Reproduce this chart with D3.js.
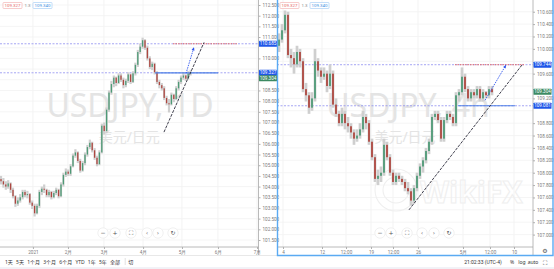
<!DOCTYPE html>
<html>
<head>
<meta charset="utf-8">
<script src="https://cdn.jsdelivr.net/npm/d3@7/dist/d3.min.js"></script>
<style>
  body { margin: 0; background: #fff; }
  svg { display: block; font-family: "Noto Sans", "Noto Sans CJK SC", sans-serif; }
</style>
</head>
<body>
<svg id="svg" width="554" height="269"></svg>
<script>
// daily candles [open, high, low, close]
const dailyCandles = [
  [104.35,104.5,104.1,104.25],[104.25,104.4,103.95,104.1],[104.1,104.25,103.85,104.0],[104.0,104.3,103.9,104.15],
  [104.15,104.2,103.7,103.85],[103.85,103.95,103.45,103.55],[103.55,103.6,103.05,103.2],[103.2,103.5,103.1,103.35],
  [103.35,103.65,103.25,103.5],[103.5,103.85,103.4,103.75],[103.75,103.85,103.5,103.6],[103.6,103.8,103.45,103.65],
  [103.65,103.7,103.15,103.25],[103.25,103.35,102.95,103.1],[103.1,103.2,102.6,102.75],[102.75,103.2,102.7,103.1],
  [103.1,103.85,103.0,103.75],[103.75,104.0,103.6,103.9],[103.9,104.1,103.7,103.85],[103.85,103.9,103.5,103.6],
  [103.6,103.85,103.5,103.75],[103.75,103.8,103.4,103.5],[103.5,103.8,103.45,103.7],[103.7,103.95,103.6,103.85],
  [103.85,103.9,103.45,103.55],[103.55,104.2,103.5,104.1],[104.1,104.65,104.0,104.55],[104.55,104.85,104.45,104.7],
  [104.7,104.8,104.5,104.6],[104.6,105.05,104.5,104.95],[104.95,105.55,104.9,105.45],[105.45,105.75,105.35,105.6],
  [105.6,105.65,105.1,105.2],[105.2,105.3,104.65,104.75],[104.75,105.2,104.7,105.1],[105.1,105.6,105.0,105.5],
  [105.5,105.95,105.4,105.85],[105.85,106.2,105.75,106.05],[106.05,106.1,105.6,105.7],[105.7,105.8,105.25,105.35],
  [105.35,105.45,104.95,105.05],[105.05,105.7,105.0,105.6],[105.6,106.95,105.55,106.85],[106.85,107.0,106.45,106.6],
  [106.6,107.7,106.5,107.6],[107.6,108.5,107.5,108.4],[108.4,108.95,108.3,108.8],[108.8,109.2,108.65,109.1],
  [109.1,109.15,108.7,108.85],[108.85,109.3,108.8,109.2],[109.2,109.3,108.9,109.0],[109.0,109.1,108.6,108.75],
  [108.75,109.05,108.65,108.95],[108.95,109.35,108.85,109.25],[109.25,109.3,108.8,108.9],[108.9,109.4,108.85,109.3],
  [109.3,109.8,109.2,109.7],[109.7,110.4,109.6,110.3],[110.3,110.7,110.2,110.55],[110.55,110.97,110.45,110.85],
  [110.85,110.9,110.4,110.5],[110.5,110.6,109.9,110.0],[110.0,110.1,109.5,109.6],[109.6,109.85,109.45,109.75],
  [109.75,109.8,109.25,109.35],[109.35,109.4,108.8,108.9],[108.9,109.0,108.6,108.75],[108.75,108.85,108.5,108.6],
  [108.6,108.7,108.05,108.15],[108.15,108.25,107.8,107.9],[107.9,108.1,107.47,107.85],[107.85,108.4,107.8,108.3],
  [108.3,108.35,107.95,108.1],[108.1,108.7,108.05,108.6],[108.6,109.0,108.5,108.9],[108.9,109.2,108.8,109.1],
  [109.1,109.35,109.0,109.2],[109.2,109.25,108.95,109.05],[109.05,109.4,109.0,109.3],[109.3,109.45,109.2,109.35]
];

// intraday candles [open, high, low, close]
const hourCandles = [
  [110.05,110.25,109.95,110.15],[110.15,110.4,110.1,110.3],[110.3,110.62,110.25,110.55],[110.55,110.6,109.85,109.9],
  [109.9,110.0,109.7,109.85],[109.85,109.95,109.6,109.75],[109.75,110.05,109.7,109.95],[109.95,110.0,109.7,109.8],
  [109.8,109.85,109.3,109.35],[109.35,109.45,109.15,109.25],[109.25,109.3,108.95,109.05],[109.05,109.3,109.0,109.2],
  [109.2,110.0,109.15,109.8],[109.8,109.85,109.55,109.65],[109.65,109.7,109.45,109.55],[109.55,109.7,109.5,109.6],
  [109.6,109.65,109.3,109.4],[109.4,109.75,109.35,109.6],[109.6,109.65,109.05,109.1],[109.1,109.2,108.9,108.95],
  [108.95,109.0,108.75,108.8],[108.8,109.05,108.75,108.95],[108.95,109.0,108.7,108.8],[108.8,108.9,108.65,108.75],
  [108.75,108.8,108.55,108.65],[108.65,108.7,108.45,108.55],[108.55,108.7,108.5,108.6],[108.6,108.8,108.55,108.7],
  [108.7,109.0,108.65,108.9],[108.9,108.95,108.7,108.8],[108.8,108.85,108.45,108.5],[108.5,108.55,108.2,108.25],
  [108.25,108.3,107.85,107.9],[107.9,108.05,107.8,107.95],[107.95,108.1,107.85,108.0],[108.0,108.55,107.95,108.45],
  [108.45,108.5,108.2,108.25],[108.25,108.3,107.95,108.0],[108.0,108.05,107.8,107.85],[107.85,108.0,107.8,107.95],
  [107.95,108.0,107.85,107.9],[107.9,107.95,107.8,107.85],[107.85,107.9,107.7,107.75],[107.75,107.85,107.65,107.7],
  [107.7,107.75,107.47,107.55],[107.55,107.8,107.5,107.75],[107.75,108.0,107.7,107.95],[107.95,108.15,107.9,108.1],
  [108.1,108.25,108.0,108.2],[108.2,108.4,108.15,108.35],[108.35,108.55,108.3,108.5],[108.5,108.95,108.45,108.9],
  [108.9,109.0,108.85,108.95],[108.95,109.0,108.8,108.85],[108.85,108.9,108.5,108.55],[108.55,108.9,108.5,108.85],
  [108.85,109.0,108.8,108.95],[108.95,109.0,108.85,108.9],[108.9,108.95,108.75,108.8],[108.8,109.3,108.75,109.25],
  [109.25,109.35,109.15,109.3],[109.3,109.7,109.25,109.55],[109.55,109.6,109.3,109.35],[109.35,109.4,109.15,109.2],
  [109.2,109.35,109.15,109.3],[109.3,109.35,109.2,109.25],[109.25,109.4,109.2,109.35],[109.35,109.4,109.15,109.2],
  [109.2,109.35,109.15,109.3],[109.3,109.32,109.2,109.25],[109.25,109.4,109.2,109.35],[109.35,109.4,109.25,109.3]
];

const dailyXTickPos = [13.3, 27.9, 42.9, 59.2, 75.4, 90.4, 106.7];
const dailyXTickLabels = ["2021", "2月", "3月", "4月", "5月", "6月", "7月"];
const hourXTickPos = [1.33, 14.33, 22.33, 30.67, 38, 46.33, 61.33, 70.33, 78.33];
const hourXTickLabels = ["4", "12", "12:00", "19", "12:00", "26", "5月", "12:00", "10"];

const dailyYTicks = [101.5,102,102.5,103,103.5,104,104.5,105,105.5,106,106.5,107,107.5,108,108.5,109,109.5,110,110.5,111,111.5,112,112.5];
const hourYTicks = [107,107.2,107.4,107.6,107.8,108,108.2,108.4,108.6,108.8,109,109.2,109.4,109.6,109.8,110,110.2,110.4,110.6,110.8];

// drawing tools: [start index, start price, end index, end price]
const dailyLevels = {upper: 110.685, lower: 109.327, last: 109.304};
const dailyTrend = [67.9, 106.55, 84.6, 110.75];
const dailyArrow = [77.1, 109.30, 80.4, 110.52];
const dailyRed = [71.7, 98.3];
const dailyBlue = [64.2, 90.4];

const hourLevels = {upper: 109.744, lower: 109.081, last: 109.304};
const hourTrend = [43.33, 107.4, 81, 109.74];
const hourArrow = [68.67, 109.17, 75.67, 109.74];
const hourRed = [58.67, 82];
const hourBlue = [59.67, 78.67];

const headerValues = ["109.327", "1.3", "109.340"];
const rangeButtons = ["1天", "5天", "1个月", "3个月", "6个月", "YTD", "1年", "5年", "全部"];

const upColor = "#4e9a76", downColor = "#ad4740", wickColor = "#cfcfcf";
const tagBlue = "#1f56e8", lvlColor = "#8f8ff0";

const svg = d3.select("#svg");

function drawPanel(p) {
  const g = svg.append("g");
  const x = d3.scaleLinear().domain(p.xDomain).range(p.xRange);
  const y = d3.scaleLinear().domain(p.yDomain).range(p.yRange);

  // grid
  g.selectAll(".vgrid").data(p.xTickPos).join("line")
    .attr("x1", d => x(d)).attr("x2", d => x(d))
    .attr("y1", 0).attr("y2", p.axisY)
    .attr("stroke", "#f0f0f0").attr("stroke-width", 0.8);
  g.selectAll(".hgrid").data(p.yTicks).join("line")
    .attr("x1", p.left).attr("x2", p.axisX)
    .attr("y1", d => y(d)).attr("y2", d => y(d))
    .attr("stroke", "#f3f3f3").attr("stroke-width", 0.8);

  // watermark
  g.append("text").attr("x", p.wmX).attr("y", 117).attr("text-anchor", "middle")
    .attr("font-size", 32).attr("fill", "#e4e4e4").text(p.title);
  g.append("text").attr("x", (p.left + p.axisX) / 2).attr("y", 142).attr("text-anchor", "middle")
    .attr("font-size", 14).attr("fill", "#e4e4e4").text("美元/日元");

  if (p.wikifx) {
    const w = g.append("g").attr("fill", "none").attr("stroke", "#efefef").attr("stroke-width", 1.1);
    w.append("circle").attr("cx", 396).attr("cy", 190).attr("r", 21);
    w.append("circle").attr("cx", 396).attr("cy", 190).attr("r", 13);
    w.append("text").attr("x", 420).attr("y", 203).attr("font-size", 30)
      .attr("font-weight", 700).attr("font-family", "Open Sans").text("WikiFX");
  }

  // full-width level lines
  g.selectAll(".lvl").data([p.levels.upper, p.levels.lower]).join("line")
    .attr("x1", p.left).attr("x2", p.axisX)
    .attr("y1", d => y(d)).attr("y2", d => y(d))
    .attr("stroke", lvlColor).attr("stroke-width", 0.8).attr("stroke-dasharray", "2,1.5");

  // candles
  g.selectAll(".wick").data(p.candles).join("line")
    .attr("x1", (d, i) => x(i)).attr("x2", (d, i) => x(i))
    .attr("y1", d => y(d[1])).attr("y2", d => y(d[2]))
    .attr("stroke", wickColor).attr("stroke-width", p.bodyW + 0.9);
  g.selectAll(".body").data(p.candles).join("rect")
    .attr("x", (d, i) => x(i) - p.bodyW / 2).attr("width", p.bodyW)
    .attr("y", d => y(Math.max(d[0], d[3])))
    .attr("height", d => Math.max(0.8, Math.abs(y(d[0]) - y(d[3]))))
    .attr("fill", d => d[3] >= d[0] ? upColor : downColor);

  // red dotted target and blue solid base
  g.append("line").attr("x1", x(p.red[0])).attr("x2", x(p.red[1]))
    .attr("y1", y(p.levels.upper)).attr("y2", y(p.levels.upper))
    .attr("stroke", "#e26a6a").attr("stroke-width", 1).attr("stroke-dasharray", "1.5,1");
  g.append("line").attr("x1", x(p.blue[0])).attr("x2", x(p.blue[1]))
    .attr("y1", y(p.levels.lower)).attr("y2", y(p.levels.lower))
    .attr("stroke", "#4f7fe6").attr("stroke-width", 1.2);

  // trend line
  g.append("line").attr("x1", x(p.trend[0])).attr("y1", y(p.trend[1]))
    .attr("x2", x(p.trend[2])).attr("y2", y(p.trend[3]))
    .attr("stroke", "#2a2a3a").attr("stroke-width", 0.9).attr("stroke-dasharray", "3,1.2");

  // projection arrow
  const ax1 = x(p.arrow[0]), ay1 = y(p.arrow[1]), ax2 = x(p.arrow[2]), ay2 = y(p.arrow[3]);
  g.append("line").attr("x1", ax1).attr("y1", ay1).attr("x2", ax2).attr("y2", ay2)
    .attr("stroke", "#2f55ee").attr("stroke-width", 0.9).attr("stroke-dasharray", "1.5,1");
  const ang = Math.atan2(ay2 - ay1, ax2 - ax1);
  const hl = 3.5;
  g.append("path")
    .attr("d", `M${ax2},${ay2}L${ax2 - hl * Math.cos(ang - 0.45)},${ay2 - hl * Math.sin(ang - 0.45)}L${ax2 - hl * Math.cos(ang + 0.45)},${ay2 - hl * Math.sin(ang + 0.45)}Z`)
    .attr("fill", "#2f55ee");

  // axes
  g.append("line").attr("x1", p.axisX).attr("x2", p.axisX).attr("y1", 0).attr("y2", 255)
    .attr("stroke", "#a8a8a8").attr("stroke-width", 0.8);
  g.append("line").attr("x1", p.left).attr("x2", p.axisX).attr("y1", p.axisY).attr("y2", p.axisY)
    .attr("stroke", "#a8a8a8").attr("stroke-width", 0.8);

  const tagYs = [y(p.levels.upper), y(p.levels.lower), y(p.levels.lower) + p.lastOffset];

  const yAxis = g.append("g").attr("transform", `translate(${p.axisX},0)`)
    .call(d3.axisRight(y).tickValues(p.yTicks).tickFormat(d3.format(".3f")).tickSize(2).tickPadding(2));
  const xAxis = g.append("g").attr("transform", `translate(0,${p.axisY})`)
    .call(d3.axisBottom(x).tickValues(p.xTickPos).tickFormat((d, i) => p.xTickLabels[i]).tickSize(2).tickPadding(1.5));
  [yAxis, xAxis].forEach(a => {
    a.select(".domain").remove();
    a.selectAll(".tick line").attr("stroke", "#b0b0b0");
    a.selectAll("text").attr("font-size", 4.6).attr("fill", "#7a7a7a").attr("font-family", "Roboto");
  });
  // labels off the pane or hidden behind a price tag
  yAxis.selectAll(".tick")
    .filter(d => y(d) < 2 || y(d) > 244 || tagYs.some(t => Math.abs(t - y(d)) < 6))
    .remove();

  // axis tags
  const tag = (ty, txt, fill) => {
    g.append("rect").attr("x", p.axisX + 0.5).attr("y", ty - 3).attr("width", 18).attr("height", 6)
      .attr("fill", fill).attr("rx", 0.6);
    g.append("text").attr("x", p.axisX + 9.5).attr("y", ty + 1.6).attr("text-anchor", "middle")
      .attr("font-size", 4.6).attr("font-family", "Roboto").attr("fill", "#fff").text(txt);
  };
  tag(tagYs[0], p.levels.upper.toFixed(3), tagBlue);
  tag(tagYs[1], p.levels.lower.toFixed(3), tagBlue);
  tag(tagYs[2], p.levels.last.toFixed(3), "#3c8a62");

  // header values
  const h = g.append("g").attr("font-size", 4.4).attr("font-family", "Roboto");
  h.append("rect").attr("x", p.left + 3).attr("y", 2.5).attr("width", 19).attr("height", 6)
    .attr("fill", "#fff").attr("stroke", "#f2a9a9").attr("stroke-width", 0.6).attr("rx", 0.8);
  h.append("text").attr("x", p.left + 12.5).attr("y", 7).attr("text-anchor", "middle").attr("fill", "#e46464").text(headerValues[0]);
  h.append("text").attr("x", p.left + 27.5).attr("y", 7).attr("text-anchor", "middle").attr("fill", "#888").text(headerValues[1]);
  h.append("rect").attr("x", p.left + 33).attr("y", 2.5).attr("width", 19).attr("height", 6)
    .attr("fill", "#fff").attr("stroke", "#9cc8f5").attr("stroke-width", 0.6).attr("rx", 0.8);
  h.append("text").attr("x", p.left + 42.5).attr("y", 7).attr("text-anchor", "middle").attr("fill", "#3b8de0").text(headerValues[2]);

  // zoom / scroll controls
  const ctl = g.append("g").attr("font-family", "DejaVu Sans").attr("font-size", 6).attr("fill", "#555");
  p.controls.forEach(c => {
    ctl.append("circle").attr("cx", c.x).attr("cy", 233).attr("r", 5.2)
      .attr("fill", "#fff").attr("stroke", "#ececec").attr("stroke-width", 0.8);
    ctl.append("text").attr("x", c.x).attr("y", 235.2).attr("text-anchor", "middle").text(c.s);
  });
}

drawPanel({
  left: 0, axisX: 258.5, axisY: 247,
  xDomain: [0, 106.67], xRange: [1, 257],
  yDomain: [101.5, 112.5], yRange: [240, 5],
  candles: dailyCandles, bodyW: 1.3,
  yTicks: dailyYTicks, xTickPos: dailyXTickPos, xTickLabels: dailyXTickLabels,
  levels: dailyLevels, trend: dailyTrend, arrow: dailyArrow, red: dailyRed, blue: dailyBlue,
  lastOffset: 5.5, title: "USDJPY, 1D", wmX: 130, wikifx: false,
  controls: [{x: 103, s: "−"}, {x: 115, s: "+"}, {x: 131, s: "⛶"}, {x: 147, s: "‹"}, {x: 158, s: "›"}, {x: 173, s: "↻"}]
});

drawPanel({
  left: 277, axisX: 533, axisY: 247,
  xDomain: [0, 85], xRange: [279, 534],
  yDomain: [107, 110.8], yRange: [234.6, -0.66],
  candles: hourCandles, bodyW: 1.8,
  yTicks: hourYTicks, xTickPos: hourXTickPos, xTickLabels: hourXTickLabels,
  levels: hourLevels, trend: hourTrend, arrow: hourArrow, red: hourRed, blue: hourBlue,
  lastOffset: -14, title: "USDJPY, 4h", wmX: 408, wikifx: true,
  controls: [{x: 380, s: "−"}, {x: 391, s: "+"}, {x: 407, s: "⛶"}, {x: 422, s: "‹"}, {x: 434, s: "›"}, {x: 449, s: "↻"}]
});

// left panel lower separator
svg.append("line").attr("x1", 0).attr("x2", 277).attr("y1", 255.5).attr("y2", 255.5)
  .attr("stroke", "#e2e2e2").attr("stroke-width", 0.8);

// selected panel border
svg.append("path").attr("d", "M277.5,0V255.5H553V0")
  .attr("fill", "none").attr("stroke", "#5aaaf2").attr("stroke-width", 1.4);

// bottom toolbar
svg.append("line").attr("x1", 0).attr("x2", 554).attr("y1", 268).attr("y2", 268)
  .attr("stroke", "#e4e4ee").attr("stroke-width", 1);
const bar = svg.append("g").attr("font-size", 5).attr("fill", "#333");
let bx = 5;
rangeButtons.forEach(b => {
  const t = bar.append("text").attr("x", bx).attr("y", 264).text(b);
  bx += t.node().getComputedTextLength() + 3.2;
});
bar.append("line").attr("x1", bx + 2).attr("x2", bx + 2).attr("y1", 258).attr("y2", 265).attr("stroke", "#ccc").attr("stroke-width", 0.6);
bar.append("text").attr("x", bx + 5).attr("y", 264).text("切");

bar.append("text").attr("x", 483).attr("y", 264).attr("text-anchor", "middle").attr("font-family", "Roboto").text("21:02:33 (UTC-4)");
bar.append("text").attr("x", 512).attr("y", 264).attr("text-anchor", "middle").text("%");
bar.append("text").attr("x", 522).attr("y", 264).attr("text-anchor", "middle").text("log");
bar.append("text").attr("x", 533).attr("y", 264).attr("text-anchor", "middle").text("auto");
bar.append("text").attr("x", 545).attr("y", 264.5).attr("text-anchor", "middle").attr("font-family", "DejaVu Sans").attr("font-size", 6).text("⛶");
svg.append("text").attr("x", 545).attr("y", 253).attr("text-anchor", "middle").attr("font-family", "DejaVu Sans")
  .attr("font-size", 6).attr("fill", "#555").text("⚙");
</script>
</body>
</html>
